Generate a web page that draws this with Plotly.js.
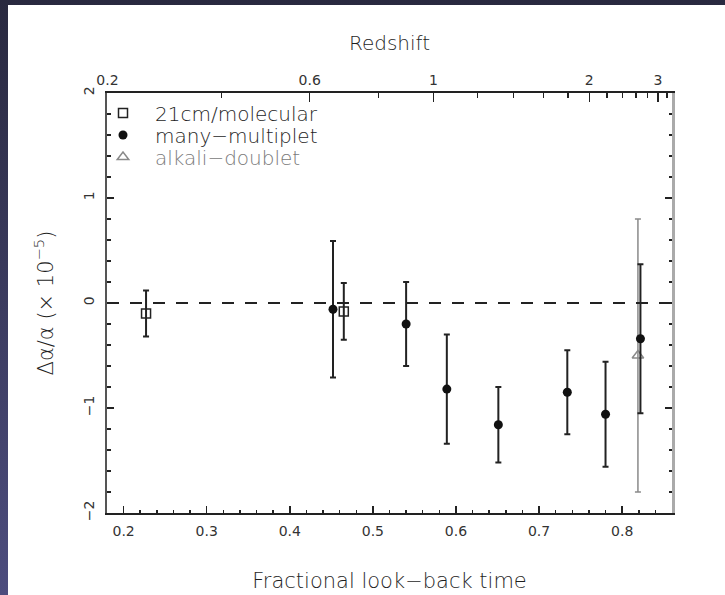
<!DOCTYPE html>
<html><head><meta charset="utf-8">
<script src="https://cdn.plot.ly/plotly-3.0.1.min.js"></script>
<style>
html,body{margin:0;padding:0;width:725px;height:595px;overflow:hidden;background:linear-gradient(to bottom,#29293f,#4d4d7e);}
#chart{position:absolute;left:8px;top:5px;width:717px;height:590px;background:#fff;}
</style></head><body><div id="chart"></div>
<script>
// 21cm / molecular
const lookback21 = [0.227, 0.465];
const dalpha21 = [-0.10, -0.08];
const err21 = [0.22, 0.27];
// many-multiplet
const lookbackMM = [0.452, 0.540, 0.589, 0.651, 0.734, 0.780, 0.822];
const dalphaMM = [-0.06, -0.20, -0.82, -1.16, -0.85, -1.06, -0.34];
const errMM = [0.65, 0.40, 0.52, 0.36, 0.40, 0.50, 0.71];
// alkali-doublet
const lookbackAD = [0.819];
const dalphaAD = [-0.50];
const errAD = [1.30];
// redshift axis ticks
const redshiftMajor = [0.2, 0.6, 1, 2, 3];
const redshiftMajorText = ['0.2', '0.6', '1', '2', '3'];
const redshiftMinor = [0.2,0.4,0.6,0.8,1.0,1.2,1.4,1.6,1.8,2.0,2.2,2.4,2.6,2.8,3.0,3.2];

function lookbackFraction(z){
  const om = 0.3, ol = 0.7, k = Math.sqrt(ol/om);
  const age = zz => Math.asinh(k*Math.pow(1+zz,-1.5));
  return 1 - age(z)/age(0);
}

const FONT = 'DejaVu Sans, Liberation Sans, sans-serif';
const dark = '#222';
const txt = '#1e1e1e';
const tickTxt = '#333';

const traces = [
  {x: [], y: [], xaxis:'x2', yaxis:'y2', type:'scatter', mode:'markers', showlegend:false, hoverinfo:'skip'},
  {x: lookback21, y: dalpha21, type:'scatter', mode:'markers', name:'21cm/molecular',
   legend:'legend', marker:{symbol:'square-open', size:9, color:dark, line:{width:1.5, color:dark}},
   error_y:{type:'data', array:err21, visible:true, color:dark, thickness:2, width:3}},
  {x: lookbackAD, y: dalphaAD, type:'scatter', mode:'markers', name:'<span style="color:#7a7a7a">alkali\u2212doublet</span>',
   legend:'legend3', marker:{symbol:'triangle-up-open', size:10, color:'#8a8a8a', line:{width:1.5, color:'#8a8a8a'}},
   error_y:{type:'data', array:errAD, visible:true, color:'#8a8a8a', thickness:1.5, width:3}},
  {x: lookbackMM, y: dalphaMM, type:'scatter', mode:'markers', name:'many\u2212multiplet',
   legend:'legend2', marker:{symbol:'circle', size:9, color:'#111'},
   error_y:{type:'data', array:errMM, visible:true, color:dark, thickness:2, width:3}}
];

const xr = [0.18, 0.86], yr = [-2, 2];
const px = p => (p-107)/565, py = p => (513-p)/420;
const legendBase = {xanchor:'left', yanchor:'middle', bgcolor:'rgba(0,0,0,0)', borderwidth:0,
  font:{family:FONT, size:20, color:txt, weight:300}, itemwidth:54};

const layout = {
  width:717, height:590,
  margin:{l:99, r:53, t:88, b:82},
  paper_bgcolor:'#fff', plot_bgcolor:'#fff',
  showlegend:true,
  font:{family:FONT, color:txt},
  xaxis:{range:xr, tickmode:'linear', tick0:0.2, dtick:0.1, ticks:'inside', ticklen:7, tickwidth:1.5, tickcolor:dark,
    showline:true, linewidth:2, linecolor:dark, showgrid:false, zeroline:false, ticklabelstandoff:4,
    tickfont:{family:FONT, size:14, color:tickTxt},
    minor:{dtick:0.02, ticks:'inside', ticklen:3.5, tickwidth:1.5, tickcolor:dark, showgrid:false},
    title:{text:'Fractional look\u2212back time', font:{family:FONT, size:21, color:txt, weight:300}, standoff:36}},
  xaxis2:{overlaying:'x', side:'top', anchor:'y2', range:xr, tickmode:'array',
    tickvals:redshiftMajor.map(lookbackFraction), ticktext:redshiftMajorText,
    ticks:'inside', ticklen:9, tickwidth:1.5, tickcolor:dark,
    showline:true, linewidth:2, linecolor:dark, showgrid:false, zeroline:false,
    tickfont:{family:FONT, size:14, color:tickTxt},
    minor:{tickmode:'array', tickvals:redshiftMinor.map(lookbackFraction), ticks:'inside', ticklen:4.5, tickwidth:1.5, tickcolor:dark, showgrid:false},
    title:{text:'Redshift', font:{family:FONT, size:20, color:txt, weight:300}, standoff:16}},
  yaxis:{range:yr, tickmode:'linear', tick0:0, dtick:1, ticks:'inside', ticklen:7, tickwidth:1.5, tickcolor:dark,
    showline:true, linewidth:2, linecolor:'#555', showgrid:false, zeroline:false, tickangle:-90, ticklabelstandoff:5,
    tickfont:{family:FONT, size:14, color:tickTxt},
    minor:{dtick:0.2, ticks:'inside', ticklen:3.5, tickwidth:1.5, tickcolor:dark, showgrid:false},
    title:{text:'\u0394\u03b1/\u03b1 (\u00d7 10<sup>\u22125</sup>)', font:{family:FONT, size:21, color:txt, weight:300}, standoff:22}},
  yaxis2:{overlaying:'y', side:'right', anchor:'x2', range:yr, tickmode:'linear', tick0:0, dtick:1, showticklabels:false,
    ticks:'inside', ticklen:7, tickwidth:1.5, tickcolor:dark,
    showline:true, linewidth:2.5, linecolor:'#aaa', showgrid:false, zeroline:false,
    minor:{dtick:0.2, ticks:'inside', ticklen:3.5, tickwidth:1.5, tickcolor:dark, showgrid:false}},
  legend: Object.assign({x:px(91), y:py(113)}, legendBase),
  legend2: Object.assign({x:px(91), y:py(135)}, legendBase),
  legend3: Object.assign({x:px(91), y:py(157)}, legendBase),
  shapes:[{type:'line', xref:'paper', yref:'y', x0:0, x1:1, y0:0, y1:0, line:{color:dark, width:2, dash:'12px,11px'}}]
};

Plotly.newPlot('chart', traces, layout, {displayModeBar:false, staticPlot:true});
</script></body></html>
